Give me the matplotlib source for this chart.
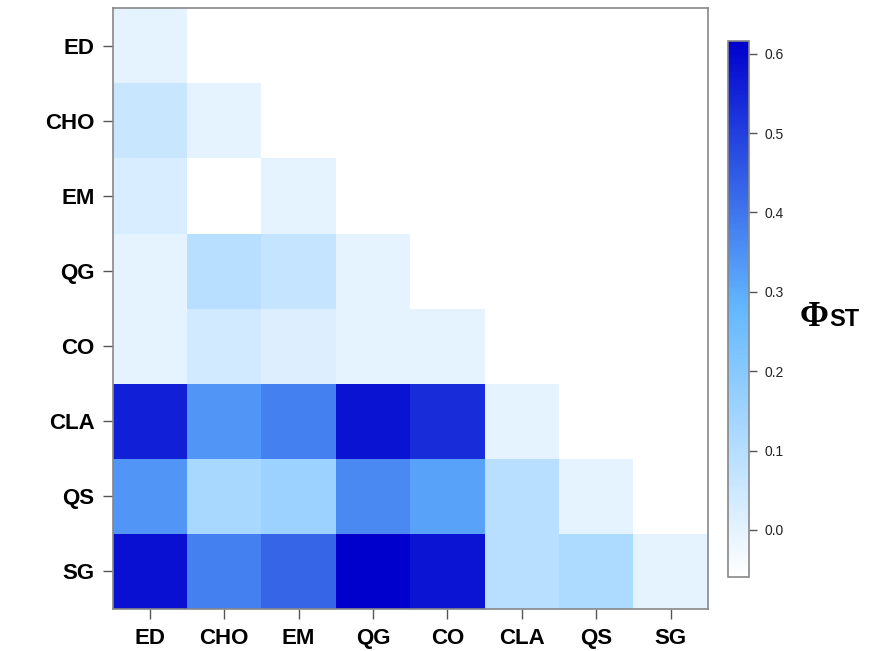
import numpy as np
import matplotlib
matplotlib.use("Agg")
import matplotlib.pyplot as plt
from matplotlib.colors import LinearSegmentedColormap

# =========================
# Data (pairwise PhiST, lower triangle incl. diagonal)
# =========================
pops = ["ED", "CHO", "EM", "QG", "CO", "CLA", "QS", "SG"]

row_ED = [0.000]
row_CHO = [0.058, 0.000]
row_EM = [0.028, -0.059, 0.000]
row_QG = [0.000, 0.094, 0.068, 0.000]
row_CO = [0.000, 0.042, 0.015, 0.000, 0.000]
row_CLA = [0.556, 0.340, 0.379, 0.581, 0.534, 0.000]
row_QS = [0.340, 0.128, 0.156, 0.365, 0.318, 0.094, 0.000]
row_SG = [0.585, 0.380, 0.430, 0.616, 0.578, 0.094, 0.120, 0.000]

rows = [row_ED, row_CHO, row_EM, row_QG, row_CO, row_CLA, row_QS, row_SG]

n = len(pops)
mat = np.full((n, n), np.nan)
for i, r in enumerate(rows):
    mat[i, :len(r)] = r

vmin, vmax = -0.059, 0.616

cmap = LinearSegmentedColormap.from_list("phist", ["#FFFFFF", "#63B8FF", "#0000CD"], N=256)
cmap.set_bad("white")

# =========================
# Figure
# =========================
fig = plt.figure(figsize=(8.69, 6.51), dpi=100)
W, H = 869, 651

ax = fig.add_axes([112.7 / W, 1 - 609 / H, 595 / W, 600.7 / H])
cax = fig.add_axes([727.7 / W, 1 - 576.7 / H, 21.3 / W, 535.7 / H])

im = ax.pcolormesh(np.ma.masked_invalid(mat), cmap=cmap, vmin=vmin, vmax=vmax)
ax.set_xlim(0, n)
ax.set_ylim(n, 0)

ax.set_xticks(np.arange(n) + 0.5)
ax.set_yticks(np.arange(n) + 0.5)
ax.set_xticklabels(pops, fontsize=16, fontweight="bold", family="Liberation Sans")
ax.set_yticklabels(pops, fontsize=16, fontweight="bold", family="Liberation Sans")
ax.tick_params(axis="both", length=7, width=1, color="#555555", pad=6)
ax.tick_params(axis="x", pad=7)
for sp in ax.spines.values():
    sp.set_color("#888888")
    sp.set_linewidth(1.2)

cb = fig.colorbar(im, cax=cax)
cb.set_ticks([0.0, 0.1, 0.2, 0.3, 0.4, 0.5, 0.6])
cb.set_ticklabels(["0.0", "0.1", "0.2", "0.3", "0.4", "0.5", "0.6"])
cb.ax.tick_params(labelsize=10, length=6, width=1, color="#555555", labelcolor="#222222", pad=5)
for t in cb.ax.get_yticklabels():
    t.set_family("Liberation Sans")
cb.outline.set_edgecolor("#888888")
cb.outline.set_linewidth(1.2)

# PhiST label
fig.text(800 / W, 1 - 318 / H, "\u03A6", fontsize=25, fontweight="bold",
         family="Liberation Serif", ha="left", va="center")
fig.text(829 / W, 1 - 319 / H, "ST", fontsize=17, fontweight="bold",
         family="Liberation Sans", ha="left", va="center")

fig.savefig("out.png", dpi=100)
